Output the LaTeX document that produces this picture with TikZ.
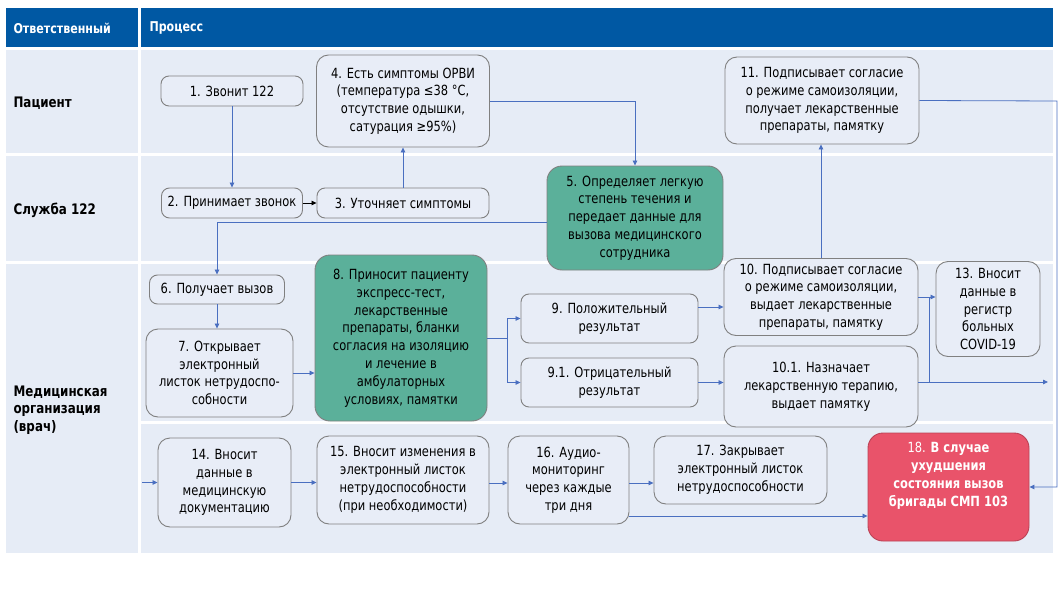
\documentclass[tikz,border=0pt]{standalone}
\usepackage{fontspec}
\setmainfont{DejaVu Sans}[FakeStretch=0.82]
\usetikzlibrary{arrows.meta,calc}
\definecolor{hdrblue}{HTML}{0058A3}
\definecolor{rowbg}{HTML}{E6ECF6}
\definecolor{boxfill}{HTML}{E8EDF7}
\definecolor{boxline}{HTML}{808080}
\definecolor{greenbox}{HTML}{5BB09A}
\definecolor{redbox}{HTML}{E9536A}
\definecolor{arrowc}{HTML}{4A6FC0}
\newcommand\boxfont{\fontsize{14}{17.8}\selectfont}
\newcommand\lblfont{\fontsize{14.5}{17.5}\selectfont\bfseries}
\newcommand\hdrfont{\fontsize{13.5}{16}\selectfont\bfseries}
\tikzset{
  box/.style={draw=boxline, fill=boxfill, rounded corners=8pt, line width=0.9pt,
    align=center, inner sep=2pt, font=\boxfont, text=black},
  bigbox/.style={box, rounded corners=12pt},
  greenstep/.style={box, fill=greenbox, rounded corners=15pt},
  redstep/.style={box, fill=redbox, draw=redbox!80!black, rounded corners=15pt, text=white},
  conn/.style={draw=arrowc, line width=0.8pt, -{Triangle[length=5pt,width=4.5pt]}},
  plain/.style={draw=arrowc, line width=0.8pt},
  lane/.style={anchor=west, align=left, font=\lblfont, text=black},
  hdr/.style={anchor=west, font=\hdrfont, text=white},
}
\begin{document}
\begin{tikzpicture}[x=1pt,y=-1pt]
\useasboundingbox (0,0) rectangle (1060,591);
% header
\fill[hdrblue] (6,8) rectangle (138,47);
\fill[hdrblue] (141,8) rectangle (1053,47);
% left column
\fill[rowbg] (6,50) rectangle (138,153);
\fill[rowbg] (6,156) rectangle (138,261);
\fill[rowbg] (6,264) rectangle (138,553);
% process column
\fill[rowbg] (141,50) rectangle (1053,153);
\fill[rowbg] (141,156) rectangle (1053,261);
\fill[rowbg] (141,264) rectangle (1053,421);
\fill[rowbg] (141,424) rectangle (1053,553);
% labels
\node[hdr] (h1) at (10,28) {Ответственный};
\node[hdr] (h2) at (146,28) {Процесс};
\node[lane] (l1) at (10,103) {Пациент};
\node[lane] (l2) at (10,210) {Служба 122};
\node[lane] (l3) at (10,410) {Медицинская\\организация\\(врач)};
% nodes
\node[box, minimum width=142pt, minimum height=30pt] (n1) at (232,91) {1. Звонит 122};
\node[box, minimum width=141pt, minimum height=30pt] (n2) at (232,203) {2. Принимает звонок};
\node[box, minimum width=172pt, minimum height=30pt] (n3) at (403,203) {3. Уточняет симптомы};
\node[bigbox, minimum width=173pt, minimum height=92pt] (n4) at (403,101) {4. Есть симптомы ОРВИ\\(температура ≤38 °C,\\отсутствие одышки,\\сатурация ≥95\%)};
\node[greenstep, minimum width=176pt, minimum height=104pt] (n5) at (635,218) {5. Определяет легкую\\степень течения и\\передает данные для\\вызова медицинского\\сотрудника};
\node[box, minimum width=135pt, minimum height=29pt] (n6) at (217,289.5) {6. Получает вызов};
\node[bigbox, minimum width=147pt, minimum height=88pt] (n7) at (219.5,373) {7. Открывает\\электронный\\листок нетрудоспо-\\собности};
\node[greenstep, minimum width=172pt, minimum height=166pt] (n8) at (401,338) {8. Приносит пациенту\\экспресс-тест,\\лекарственные\\препараты, бланки\\согласия на изоляцию\\и лечение в\\амбулаторных\\условиях, памятки};
\node[box, minimum width=177pt, minimum height=49pt] (n9) at (609.5,318.5) {9. Положительный\\результат};
\node[box, minimum width=177pt, minimum height=49pt] (n91) at (609.5,382.5) {9.1. Отрицательный\\результат};
\node[bigbox, minimum width=194pt, minimum height=77pt] (n10) at (821,297) {10. Подписывает согласие\\о режиме самоизоляции,\\выдает лекарственные\\препараты, памятку};
\node[bigbox, minimum width=194pt, minimum height=81pt] (n101) at (821,386.5) {10.1. Назначает\\лекарственную терапию,\\выдает памятку};
\node[bigbox, minimum width=194pt, minimum height=87pt] (n11) at (822,100.5) {11. Подписывает согласие\\о режиме самоизоляции,\\получает лекарственные\\препараты, памятку};
\node[bigbox, minimum width=104pt, minimum height=95pt] (n13) at (988,309) {13. Вносит\\данные в\\регистр\\больных\\COVID-19};
\node[bigbox, minimum width=133pt, minimum height=89pt] (n14) at (224.5,482.5) {14. Вносит\\данные в\\медицинскую\\документацию};
\node[bigbox, minimum width=172pt, minimum height=88pt] (n15) at (403,480) {15. Вносит изменения в\\электронный листок\\нетрудоспособности\\(при необходимости)};
\node[bigbox, minimum width=121pt, minimum height=88pt] (n16) at (568.5,480) {16. Аудио-\\мониторинг\\через каждые\\три дня};
\node[bigbox, minimum width=173pt, minimum height=68pt] (n17) at (740.5,470) {17. Закрывает\\электронный листок\\нетрудоспособности};
\node[redstep, minimum width=161pt, minimum height=108pt] (n18) at (948.5,487) {18. \textbf{В случае}\\\textbf{ухудшения}\\\textbf{состояния вызов}\\\textbf{бригады СМП 103}\\[8pt]};
% helper coordinates
\coordinate (j8) at (507,338);
\coordinate (j10) at (929,297);
\coordinate (j101) at (929,382);
\coordinate (out101) at (1048,382);
\coordinate (r11) at (1057,101);
\coordinate (in14) at (142,482.5);
\coordinate (s5) at ($(n5.west)+(0,4)$);
\coordinate (s9) at ($(n9.east)+(0,-11.5)$);
\coordinate (s15) at ($(n15.east)+(0,3)$);
\coordinate (s16a) at ($(n16.east)+(0,3)$);
\coordinate (s16b) at ($(n16.east)+(0,36)$);
% connectors
\draw[conn] (n1.south) -- (n2.north);
\draw[line width=0.8pt, -{Triangle[length=5pt,width=4.5pt]}] (n2.east) -- (n3.west);
\draw[conn] (n3.north) -- (n4.south);
\draw[conn] (n4.east) -| (n5.north);
\draw[conn] (s5) -| (n6.north);
\draw[conn] (n6.south) -- (n6.south |- n7.north);
\draw[conn] (n7.east) -- (n7.east -| n8.west);
\draw[plain] (n8.east) -- (j8);
\draw[conn] (j8) |- (n9.west);
\draw[conn] (j8) |- (n91.west);
\draw[conn] (s9) -- (s9 -| n10.west);
\draw[conn] (n91.east) -- (n91.east -| n101.west);
\draw[conn] (n10.east) -- (n10.east -| n13.west);
\draw[plain] (j10) -- (j101);
\draw[conn] (n101.east |- j101) -- (out101);
\draw[conn] (n10.north) -- (n10.north |- n11.south);
\draw[conn] (n11.east) -- (r11) |- (n18.east);
\draw[conn] (in14) -- (n14.west);
\draw[conn] (n14.east) -- (n14.east -| n15.west);
\draw[conn] (s15) -- (s15 -| n16.west);
\draw[conn] (s16a) -- (s16a -| n17.west);
\draw[conn] (s16b) -- (s16b -| n18.west);
\end{tikzpicture}
\end{document}
